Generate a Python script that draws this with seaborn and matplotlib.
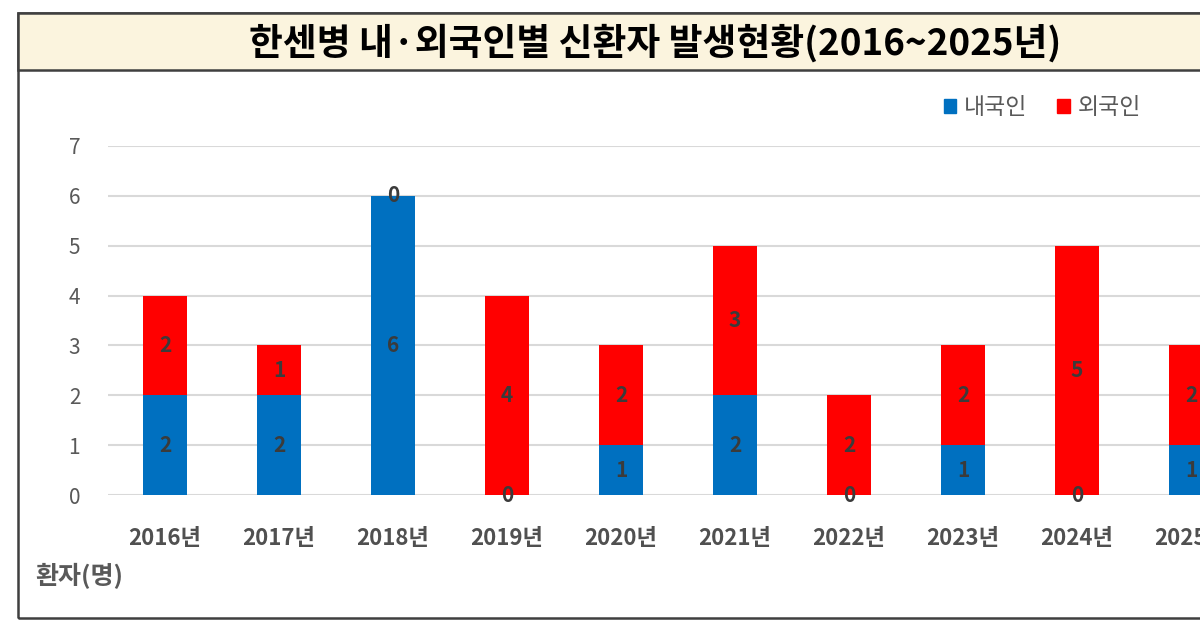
import matplotlib
matplotlib.use("Agg")
import matplotlib.pyplot as plt
from matplotlib.patches import Rectangle
import pandas as pd
import seaborn as sns

# 데이터
years = ["2016년", "2017년", "2018년", "2019년", "2020년",
         "2021년", "2022년", "2023년", "2024년", "2025년"]
domestic = [2, 2, 6, 0, 1, 2, 0, 1, 0, 1]   # 내국인
foreign = [2, 1, 0, 4, 2, 3, 2, 2, 5, 2]    # 외국인

title = "한센병 내·외국인별 신환자 발생현황(2016~2025년)"
blue = "#0070C0"
red = "#FF0000"
gray = "#595959"

df = pd.DataFrame({"연도": years, "내국인": domestic, "외국인": foreign})
df["합계"] = df["내국인"] + df["외국인"]

sns.set_theme(style="white")
plt.rcParams["font.family"] = ["Noto Sans CJK KR", "DejaVu Sans"]

fig = plt.figure(figsize=(12, 6.3), dpi=100)

# 바깥 테두리와 제목 띠
fig.patches.append(Rectangle((18 / 1200, 12 / 630), 1.2, 605 / 630,
                             transform=fig.transFigure, fill=False,
                             edgecolor="#3f3f3f", linewidth=1.8, zorder=0))
fig.patches.append(Rectangle((18 / 1200, 560 / 630), 1.2, 57 / 630,
                             transform=fig.transFigure, facecolor="#FBF4DE",
                             edgecolor="#3f3f3f", linewidth=1.8, zorder=0))
fig.text(655 / 1200, 587 / 630, title, ha="center", va="center",
         fontsize=26.5, fontweight="bold", color="black")

ax = fig.add_axes([108 / 1200, 135 / 630, 1140 / 1200, 349 / 630])
ax.set_facecolor("none")

# 누적 막대: 합계(빨강) 위에 내국인(파랑)
sns.barplot(data=df, x="연도", y="합계", color=red, width=0.39,
            saturation=1, linewidth=0, ax=ax, zorder=2)
sns.barplot(data=df, x="연도", y="내국인", color=blue, width=0.39,
            saturation=1, linewidth=0, ax=ax, zorder=3)

ax.set_xlim(-0.5, 9.5)
ax.set_ylim(0, 7)
ax.set_yticks(range(0, 8))
ax.grid(axis="y", color="#D9D9D9", linewidth=1.5, zorder=0)
ax.set_axisbelow(True)
for s in ax.spines.values():
    s.set_visible(False)
ax.set_xlabel("")
ax.set_ylabel("")
ax.tick_params(axis="y", length=0, pad=20, labelsize=15, labelcolor=gray)
ax.tick_params(axis="x", length=0, pad=23, labelsize=16, labelcolor="#505050")
for lab in ax.get_xticklabels():
    lab.set_fontweight("bold")

# 데이터 레이블
for i, (d, f) in enumerate(zip(domestic, foreign)):
    ax.text(i, d / 2, str(d), ha="center", va="center", fontsize=15,
            fontweight="bold", color="#3b3b3b", zorder=5)
    ax.text(i, d + f / 2, str(f), ha="center", va="center", fontsize=15,
            fontweight="bold", color="#3b3b3b", zorder=5)

fig.text(35 / 1200, 54 / 630, "환자(명)", ha="left", va="center",
         fontsize=18, fontweight="bold", color=gray)

# 범례
handles = [Rectangle((0, 0), 1, 1, color=blue), Rectangle((0, 0), 1, 1, color=red)]
fig.legend(handles, ["내국인", "외국인"], loc="center right",
           bbox_to_anchor=(1162 / 1200, 522 / 630), ncol=2, frameon=False,
           fontsize=16.5, handlelength=0.55, handleheight=0.55, handletextpad=0.35,
           columnspacing=1.3, labelcolor=gray)

fig.savefig("out.png", dpi=100)
